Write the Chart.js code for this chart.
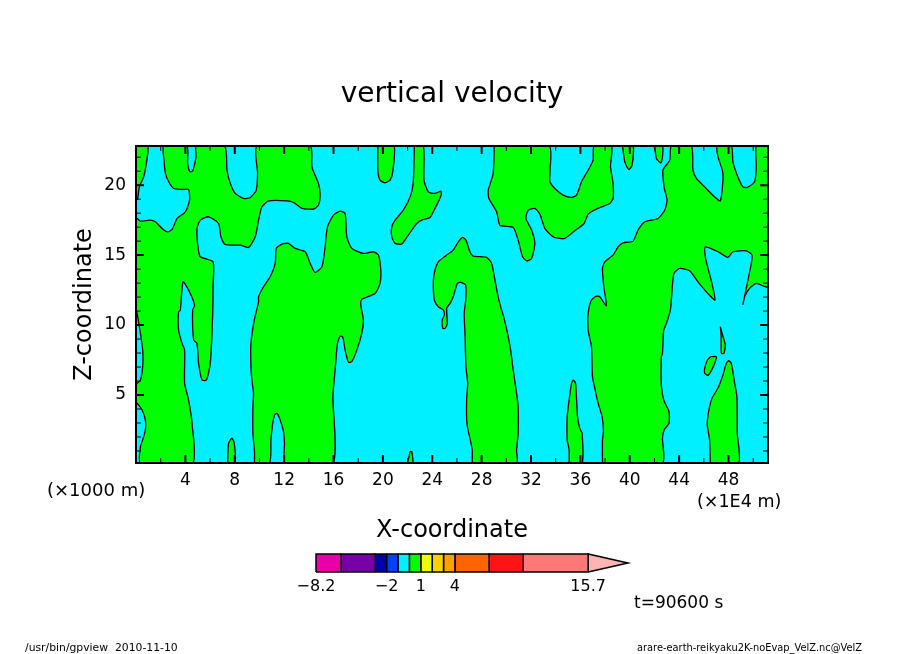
<!DOCTYPE html>
<html>
<head>
<meta charset="utf-8">
<title>vertical velocity</title>
<script src="https://cdn.jsdelivr.net/npm/chart.js@4"></script>
<style>
  body { margin: 0; background: #fff; }
  #plot { position: absolute; left: 0; top: 0; }
  #bar { position: absolute; left: 286px; top: 540px; }
</style>
</head>
<body>
<canvas id="plot" width="904" height="654"></canvas>
<canvas id="bar" width="350" height="60"></canvas>
<script>
// contours of the 1 m/s level, [x (1E4 m), z (1000 m)]
const cornerTopLeft = [[0,22.8],[0.95,22.8],[0.84,21.57],[0.62,20.59],[0.27,19.88],[0.14,19.07],[0,18.93]];
const regionLeft = [[0,17.62],[0.09,17.62],[0.36,17.43],[1.17,17.5],[1.57,17.38],[2.11,16.91],[2.56,16.66],[2.92,16.84],[3.33,17.62],[4.0,18.09],[4.34,18.93],[4.26,19.69],[3.73,19.69],[3.05,19.76],[2.65,20.24],[2.38,20.84],[2.27,21.8],[2.24,22.8],
  [4.12,22.8],[4.18,21.55],[4.3,21.07],[4.43,20.95],[4.62,21.07],[4.86,22.02],[4.89,22.8],
  [7.18,22.8],[7.37,21.07],[7.64,20.12],[8.04,19.41],[8.71,19.05],[9.26,19.12],[9.74,19.64],[9.85,20.84],[9.8,22.8],
  [14.11,22.8],[14.25,21.31],[14.78,20.12],[14.92,19.29],[14.78,18.57],[14.38,18.29],[13.44,18.34],[12.76,18.76],[12.22,18.88],[10.74,18.88],[10.2,18.45],[9.93,17.5],[9.66,16.31],[9.12,15.55],[8.45,15.71],[7.23,15.76],[6.88,16.31],[6.69,17.26],[5.88,17.74],[5.21,17.5],[4.94,16.91],[5.02,15.59],[5.21,14.88],[6.24,14.52],[6.24,12.74],
  [6.21,10.71],[6.02,7.26],[5.7,6.07],[5.35,6.07],[5.07,7.26],[4.94,8.69],[4.67,8.93],[4.59,11.07],[4.75,11.43],[4.26,12.5],[3.81,13.09],[3.59,11.07],[3.45,10.95],[3.45,9.64],[3.73,8.69],[3.94,8.21],[3.94,5.84],[4.26,4.64],[4.54,2.98],[4.59,0.14],
  [0.36,0.14],[0.36,1.31],[0.54,1.79],[0.76,2.5],[0.76,3.21],[0.49,3.93],[0.09,4.41],[0,4.41],[0,5.84],[0.09,5.84],[0.36,6.07],[0.54,7.02],[0.54,8.21],[0.36,9.41],[0.14,10.59],[0.05,10.95],[0,10.95]];
const regionMiddleLeft = [[9.6,0.14],[9.6,0.95],[9.47,2.26],[9.47,4.16],[9.52,5.12],[9.39,6.07],[9.31,7.02],[9.31,8.69],[9.58,10.36],[9.93,11.66],[9.93,12.02],[10.33,12.74],[10.87,13.45],[11.28,14.41],[11.36,15.48],[11.82,15.79],[12.35,15.84],[12.9,15.48],[13.71,15.24],[14.11,14.41],[14.51,13.76],[15.06,14.16],[15.32,15.59],[15.51,17.02],[16.0,17.86],[16.54,18.14],[16.94,17.98],[17.08,16.31],[17.48,15.48],[18.42,15.12],[19.23,15.24],[19.64,15.0],[19.83,13.93],[19.77,12.98],[19.37,12.26],[18.29,11.84],[18.21,11.43],[18.42,10.36],[18.29,9.41],[17.89,8.21],[17.48,7.38],[17.21,7.34],[16.94,8.21],[16.76,9.12],[16.54,9.21],[16.32,8.69],[16.13,6.79],[15.95,4.88],[15.95,0.14],
  [12.09,0.14],[12.03,1.55],[11.95,2.38],[11.68,3.21],[11.42,3.69],[11.22,3.57],[11.06,2.86],[10.93,1.79],[10.82,0.14]];
const peakAt8 = [[7.42,0.14],[7.5,1.55],[7.77,1.91],[7.96,1.55],[8.02,0.14]];
const peakAt22 = [[21.98,0.14],[22.12,0.59],[22.2,0.95],[22.34,0.95],[22.42,0.14]];
const hangAt20 = [[19.59,22.8],[19.59,21.07],[19.77,20.36],[20.18,20.17],[20.58,20.36],[20.8,20.95],[20.9,22.8]];
const hangAt22 = [[22.55,22.8],[22.47,20.36],[22.26,19.29],[21.66,18.21],[20.99,17.5],[20.72,17.02],[20.72,16.31],[20.99,15.84],[21.53,15.79],[22.06,16.43],[22.74,17.26],[23.28,17.55],[23.82,17.69],[24.22,18.34],[24.71,19.24],[24.71,19.57],[24.22,19.41],[23.68,19.52],[23.33,20.36],[23.28,22.8]];
const regionCentre = [[27.24,0.14],[27.24,1.07],[27.05,1.91],[26.87,2.62],[26.79,3.21],[26.79,4.76],[26.87,5.84],[26.73,7.02],[26.65,9.41],[26.59,10.84],[26.71,11.79],[26.71,12.86],[26.3,13.05],[26.03,12.98],[25.7,12.02],[25.44,11.55],[25.17,11.19],[25.22,10.12],[25.03,9.76],[24.85,9.76],[24.81,10.36],[24.98,10.71],[24.9,11.07],[24.49,11.31],[24.17,11.79],[24.09,13.21],[24.22,13.93],[24.49,14.52],[25.17,15.0],[25.7,15.36],[26.11,15.95],[26.46,16.26],[26.73,16.07],[27.05,15.24],[27.32,14.93],[28.4,14.84],[28.81,14.41],[29.08,13.21],[29.34,12.02],[29.62,11.07],[29.75,10.71],[30.1,9.41],[30.35,8.21],[30.56,6.79],[30.83,5.12],[30.96,4.16],[30.96,2.26],[30.83,1.07],[30.83,0.14]];
const bandTop = [[29.02,22.8],[28.94,20.84],[28.54,19.64],[28.59,19.05],[29.22,18.09],[29.48,17.14],[30.56,16.98],[30.96,16.07],[31.32,14.88],[31.64,14.59],[32.05,14.76],[32.31,15.84],[32.05,16.79],[31.59,17.62],[31.77,18.21],[32.31,18.34],[32.72,17.93],[33.12,16.91],[33.79,16.31],[34.34,16.19],[34.74,16.19],[35.28,16.55],[35.69,16.84],[36.3,17.26],[36.63,17.93],[37.3,18.29],[38.38,18.69],[38.65,19.05],[38.65,20.12],[38.44,21.31],[38.52,22.8],
  [37.11,22.8],[37.03,21.79],[36.63,21.07],[36.09,20.24],[35.69,19.29],[35.28,19.12],[34.6,19.29],[33.93,19.76],[33.53,20.24],[33.53,20.84],[33.47,22.8]];
const hangAt40 = [[39.41,22.8],[39.6,21.66],[39.92,21.12],[40.19,21.43],[40.27,22.8]];
const hangAt42 = [[42.02,22.8],[42.16,21.91],[42.51,21.59],[42.65,22.02],[42.65,22.8]];
const regionRight = [[37.79,0.14],[37.79,1.79],[37.87,2.38],[37.76,3.45],[37.44,4.41],[37.17,5.48],[36.98,6.31],[36.9,8.45],[36.63,9.64],[36.63,10.84],[36.9,11.79],[37.3,12.07],[37.57,12.02],[38.11,11.38],[37.9,12.74],[37.79,14.05],[37.98,14.52],[38.65,15.0],[39.05,15.59],[39.46,15.88],[40.27,16.0],[40.67,16.79],[41.21,17.38],[42.29,17.62],[42.83,18.21],[43.02,18.93],[42.78,19.88],[42.69,21.07],[43.24,21.79],[43.37,22.8],
  [44.99,22.8],[45.12,21.07],[45.4,20.48],[46.07,19.88],[46.88,19.16],[47.34,18.88],[47.55,20.36],[47.5,21.07],[47.15,22.02],[47.09,22.8],
  [48.23,22.8],[48.36,21.66],[48.76,20.59],[49.17,19.88],[49.52,19.84],[50.11,20.24],[50.25,21.31],[50.25,22.8],
  [51.2,22.8],[51.2,12.74],[50.25,12.98],[49.71,12.62],[49.3,12.02],[49.17,11.48],[49.57,13.21],[49.85,14.41],[49.9,15.0],[49.44,15.31],[48.36,15.24],[47.95,14.84],[47.15,15.24],[46.12,15.59],[46.12,14.88],[46.34,14.05],[46.66,12.98],[46.9,11.79],[46.2,12.38],[45.53,13.09],[44.85,13.88],[44.04,14.05],[43.58,13.69],[43.45,12.74],[43.29,11.07],[42.97,10.12],[42.75,9.64],[42.65,7.98],[42.56,7.74],[42.56,5.71],[42.75,4.64],[43.18,3.81],[43.18,2.98],[42.78,2.5],[42.65,1.91],[42.65,0.14]];
const peakAt36 = [[35.09,0.14],[35.09,1.07],[34.93,1.79],[34.93,3.45],[35.09,4.64],[35.23,5.59],[35.41,6.07],[35.61,5.84],[35.77,3.45],[35.95,2.62],[36.14,2.26],[36.14,0.14]];
const peakAt48 = [[46.53,0.14],[46.47,1.79],[46.28,2.86],[46.39,3.81],[46.66,4.76],[47.14,5.48],[47.55,6.43],[47.82,7.26],[48.01,7.45],[48.23,7.26],[48.5,5.84],[48.68,4.88],[48.71,2.26],[48.82,0.14]];
const blobAt46 = [[46.55,7.74],[47.01,7.74],[46.93,7.38],[46.61,6.74],[46.33,6.41],[46.07,6.55],[46.07,6.91],[46.29,7.5]];
const sliverAt47 = [[47.34,9.88],[47.52,9.29],[47.74,8.57],[47.63,7.98],[47.42,7.98],[47.4,9.29]];

const contours = [cornerTopLeft, regionLeft, regionMiddleLeft, peakAt8, peakAt22, hangAt20, hangAt22, regionCentre, bandTop, hangAt40, hangAt42, regionRight, peakAt36, peakAt48, blobAt46, sliverAt47];

// colour bar
const barLevels = [-8.2, -6, -3, -2, -1, 0, 1, 2, 3, 4, 7, 10, 15.7];
const barColors = ['#e800a8', '#7800a8', '#0000a8', '#0040ff', '#00f0ff', '#00ff00', '#f0ff00', '#ffd000', '#ffa000', '#ff6400', '#ff1414', '#ff7878'];
const barTip = 19.2;
const barTipColor = '#ffb4b4';
const barLabels = [-8.2, -2, 1, 4, 15.7];

const fontName = '"DejaVu Sans"';

function closed(points) {
  return points.concat([points[0]]);
}

const plotDecor = {
  id: 'plotDecor',
  beforeDatasetsDraw(chart) {
    const { ctx, chartArea: a } = chart;
    ctx.fillStyle = '#00f0ff';
    ctx.fillRect(a.left, a.top, a.width, a.height);
  },
  afterDatasetsDraw(chart) {
    const { ctx, chartArea: a, scales } = chart;
    ctx.save();
    ctx.strokeStyle = '#000';
    scales.x.ticks.forEach(t => {
      const px = scales.x.getPixelForValue(t.value);
      const len = t.value % 4 === 0 ? 8 : 5;
      ctx.lineWidth = t.value % 4 === 0 ? 2 : 1;
      ctx.beginPath();
      ctx.moveTo(px, a.top); ctx.lineTo(px, a.top + len);
      ctx.moveTo(px, a.bottom); ctx.lineTo(px, a.bottom - len);
      ctx.stroke();
    });
    scales.y.ticks.forEach(t => {
      const py = scales.y.getPixelForValue(t.value);
      const len = t.value % 5 === 0 ? 8 : 5;
      ctx.lineWidth = t.value % 5 === 0 ? 2 : 1;
      ctx.beginPath();
      ctx.moveTo(a.left, py); ctx.lineTo(a.left + len, py);
      ctx.moveTo(a.right, py); ctx.lineTo(a.right - len, py);
      ctx.stroke();
    });
    ctx.lineWidth = 2;
    ctx.strokeRect(a.left, a.top, a.width, a.height);

    ctx.fillStyle = '#000';
    ctx.textBaseline = 'middle';
    ctx.font = `18px ${fontName}`;
    ctx.fillText('(×1000 m)', 47, 491);
    ctx.font = `17.5px ${fontName}`;
    ctx.fillText('(×1E4 m)', 697, 502);
    ctx.font = `17px ${fontName}`;
    ctx.fillText('t=90600 s', 634, 604);
    ctx.font = `10.8px ${fontName}`;
    ctx.fillText('/usr/bin/gpview  2010-11-10', 25, 648);
    ctx.font = `10px ${fontName}`;
    ctx.fillText('arare-earth-reikyaku2K-noEvap_VelZ.nc@VelZ', 637, 648, 225);
    ctx.restore();
  }
};

new Chart(document.getElementById('plot'), {
  type: 'scatter',
  data: {
    datasets: contours.map(c => ({
      data: closed(c),
      showLine: true,
      fill: 'shape',
      backgroundColor: '#00ff00',
      borderColor: '#000',
      borderWidth: 1.3,
      tension: 0.2,
      pointRadius: 0
    }))
  },
  options: {
    responsive: false,
    animation: false,
    devicePixelRatio: 1,
    plugins: {
      legend: { display: false },
      tooltip: { enabled: false },
      title: {
        display: true,
        text: 'vertical velocity',
        color: '#000',
        font: { family: fontName, size: 28, weight: 'normal', lineHeight: 1 },
        padding: { top: 81, bottom: 37 }
      }
    },
    scales: {
      x: {
        type: 'linear',
        min: 0,
        max: 51.2,
        afterFit: s => { s.height = 191; },
        grid: { display: false, drawTicks: false },
        border: { display: false },
        ticks: {
          stepSize: 2,
          includeBounds: false,
          autoSkip: false,
          maxRotation: 0,
          padding: 7,
          color: '#000',
          font: { family: fontName, size: 17 },
          callback: v => (v % 4 === 0 && v > 0 ? String(v) : '')
        },
        title: {
          display: true,
          text: 'X-coordinate',
          color: '#000',
          font: { family: fontName, size: 24, lineHeight: 1 },
          padding: { top: 0, bottom: 111 }
        }
      },
      y: {
        type: 'linear',
        min: 0.14,
        max: 22.8,
        afterFit: s => { s.width = 136; },
        grid: { display: false, drawTicks: false },
        border: { display: false },
        ticks: {
          stepSize: 1,
          includeBounds: false,
          autoSkip: false,
          padding: 10,
          color: '#000',
          font: { family: fontName, size: 17 },
          callback: v => (v % 5 === 0 && v > 0 ? String(v) : '')
        },
        title: {
          display: true,
          text: 'Z-coordinate',
          color: '#000',
          font: { family: fontName, size: 24, lineHeight: 1 },
          padding: { top: 73, bottom: 0 }
        }
      },
      y2: {
        type: 'linear',
        position: 'right',
        min: 0.14,
        max: 22.8,
        afterFit: s => { s.width = 136; },
        grid: { display: false },
        border: { display: false },
        ticks: { display: false }
      }
    }
  },
  plugins: [plotDecor]
});

// colour bar as a second small chart on a value scale
const barSets = barColors.map((color, i) => ({
  data: [[barLevels[i], 0], [barLevels[i + 1], 0], [barLevels[i + 1], 1], [barLevels[i], 1], [barLevels[i], 0]],
  backgroundColor: color
}));
barSets.push({
  data: [[barLevels[barLevels.length - 1], 0], [barTip, 0.5], [barLevels[barLevels.length - 1], 1], [barLevels[barLevels.length - 1], 0]],
  backgroundColor: barTipColor
});

new Chart(document.getElementById('bar'), {
  type: 'scatter',
  data: {
    datasets: barSets.map(s => ({
      ...s,
      showLine: true,
      fill: 'shape',
      borderColor: '#000',
      borderWidth: 1.5,
      tension: 0,
      pointRadius: 0,
      clip: false
    }))
  },
  options: {
    responsive: false,
    animation: false,
    devicePixelRatio: 1,
    layout: { padding: { left: 30, right: 8, top: 14, bottom: 0 } },
    plugins: { legend: { display: false }, tooltip: { enabled: false } },
    scales: {
      x: {
        type: 'linear',
        min: -8.2,
        max: barTip,
        afterFit: s => { s.height = 28; },
        afterBuildTicks: s => { s.ticks = barLabels.map(v => ({ value: v })); },
        grid: { display: false, drawTicks: false },
        border: { display: false },
        ticks: {
          autoSkip: false,
          maxRotation: 0,
          padding: 5,
          color: '#000',
          font: { family: fontName, size: 16 },
          callback: v => String(v).replace('-', '\u2212')
        }
      },
      y: { type: 'linear', min: 0, max: 1, display: false }
    }
  }
});
</script>
</body>
</html>
